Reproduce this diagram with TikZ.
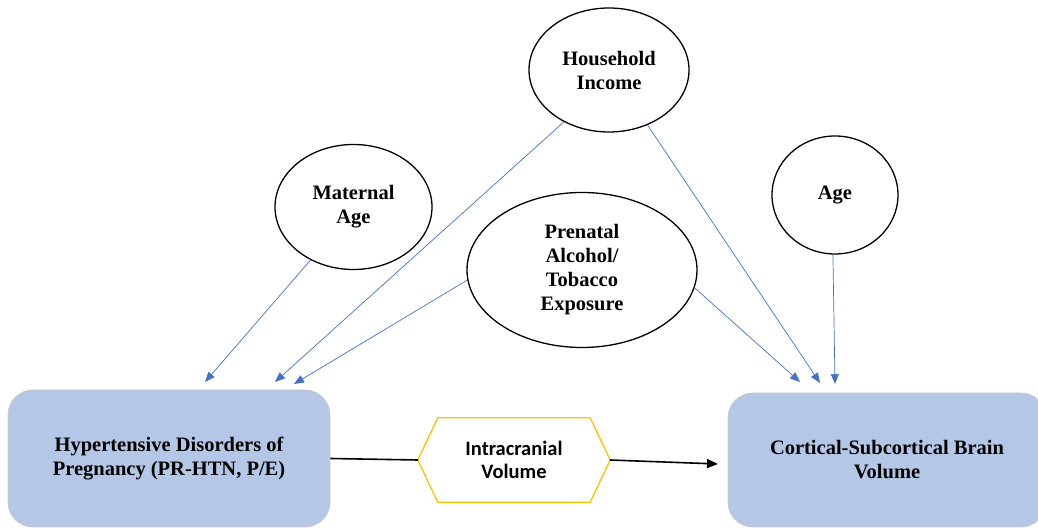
\documentclass[tikz,border=0pt]{standalone}
\usepackage{fontspec}
\setmainfont{Liberation Serif}
\newfontfamily\calibri{Carlito}
\usetikzlibrary{shapes.geometric,arrows.meta,calc}
\definecolor{boxfill}{HTML}{B4C7E7}
\definecolor{boxline}{HTML}{C9C9C9}
\definecolor{linkblue}{HTML}{4472C4}
\definecolor{hexline}{HTML}{FFC000}
\tikzset{
  x=1pt, y=1pt,
  txt/.style={font=\fontsize{20.5}{24}\selectfont\bfseries, align=center},
  outcome/.style={txt, draw=boxline, line width=0.8pt, fill=boxfill, rounded corners=25pt, inner sep=0pt},
  factor/.style={txt, ellipse, draw=black, line width=1.3pt, fill=white, inner sep=0pt},
  hextxt/.style={font=\calibri\fontsize{20.5}{23}\selectfont\bfseries, align=center},
  link/.style={draw=linkblue, line width=0.7pt, -{Triangle[length=10pt,width=8pt]}},
  mainpath/.style={draw=black, line width=1.6pt}
}
\begin{document}
\begin{tikzpicture}
\useasboundingbox (0,0) rectangle (1038,529);
\clip (0,0) rectangle (1038,529);

% outcome boxes
\node[outcome, minimum width=322pt, minimum height=137pt] (hdp) at (169,70.5)
  {Hypertensive Disorders of\\Pregnancy (PR-HTN, P/E)};
\node[outcome, minimum width=318pt, minimum height=134pt] (csb) at (887,69)
  {Cortical-Subcortical Brain\\Volume};

% mediator hexagon
\node[hextxt, minimum width=152pt, minimum height=84pt, inner sep=0pt] (icv) at (514,69) {};
\coordinate (icvL) at ($(icv.west)+(-20,0)$);
\coordinate (icvR) at ($(icv.east)+(20,0)$);
\draw[draw=hexline, line width=1.3pt, fill=white]
  (icvL) -- (icv.north west) -- (icv.north east) -- (icvR)
  -- (icv.south east) -- (icv.south west) -- cycle;
\node[hextxt] (icvtext) at (icv) {Intracranial\\Volume};

% covariates
\node[factor, minimum width=160pt, minimum height=124pt] (hinc) at (609,459) {Household\\Income};
\node[factor, minimum width=157pt, minimum height=125pt] (matage) at (353.5,322) {Maternal\\Age};
\node[factor, minimum width=230pt, minimum height=155pt] (pate) at (582,259)
  {Prenatal\\Alcohol/\\Tobacco\\Exposure};
\node[factor, minimum width=126pt, minimum height=118pt] (age) at (835,334) {Age};

% arrow targets above the boxes
\coordinate (h1) at (205,147);
\coordinate (h2) at (275,147);
\coordinate (h3) at (294,145);
\coordinate (c1) at (800,147);
\coordinate (c2) at (820,146);
\coordinate (c3) at (835,145);
\coordinate (csbIn) at (718,65);

% covariate links
\draw[link] (matage.231) -- (h1);
\draw[link] (hinc.229) -- (h2);
\draw[link] (pate.185) -- (h3);
\draw[link] (hinc.305) -- (c2);
\draw[link] (pate.351) -- (c1);
\draw[link] (age.268) -- (c3);

% main path
\draw[mainpath] (hdp.east) -- (icvL);
\draw[mainpath, -{Triangle[length=11pt,width=9pt]}] (icvR) -- (csbIn);
\end{tikzpicture}
\end{document}
